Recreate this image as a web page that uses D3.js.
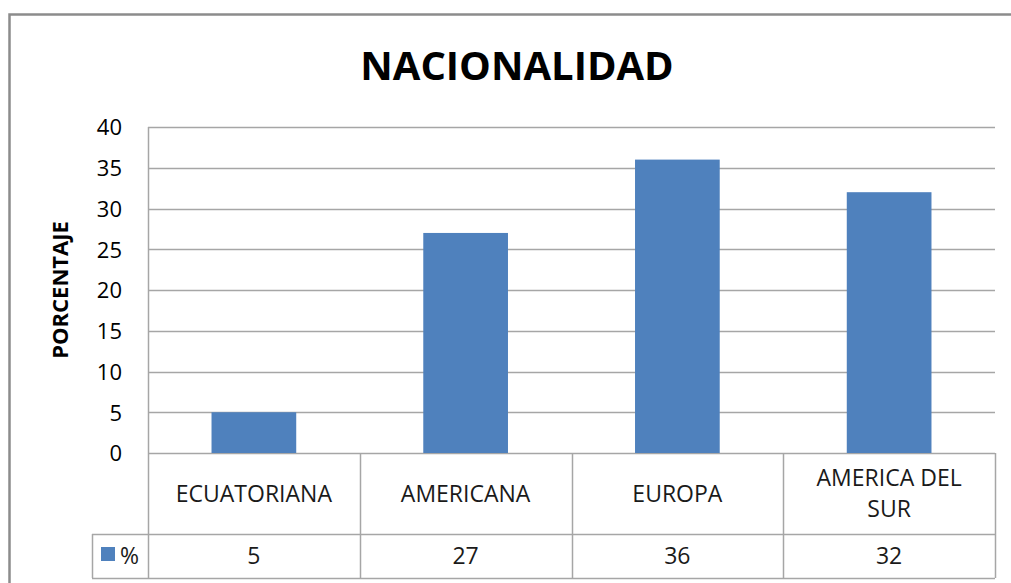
<!DOCTYPE html>
<html>
<head>
<meta charset="utf-8">
<script src="https://cdn.jsdelivr.net/npm/d3@7"></script>
<style>
  body { margin: 0; background: #fff; }
  svg { display: block; font-family: "Open Sans", sans-serif; }
</style>
</head>
<body>
<div id="vis"></div>
<script>
// datos
var categorias = ["ECUATORIANA", "AMERICANA", "EUROPA", "AMERICA DEL SUR"];
var etiquetas = [["ECUATORIANA"], ["AMERICANA"], ["EUROPA"], ["AMERICA DEL", "SUR"]];
var porcentajes = [5, 27, 36, 32];
var ticksY = [0, 5, 10, 15, 20, 25, 30, 35, 40];
var serie = "%";

const width = 1011;
const height = 583;
const azul = "#4f81bd";
const gris = "#a6a6a6";

var svg = d3.select("#vis")
  .append("svg")
  .attr("width", width)
  .attr("height", height);

// marco del grafico
svg.append("path")
  .attr("d", "M9.5,600 L9.5,14.5 L1020,14.5")
  .attr("fill", "none")
  .attr("stroke", "#8c8c8c")
  .attr("stroke-width", 2.5);

const mIzq = 148, mDer = 995, mSup = 127, mInf = 453;
const filaCat = 534, filaVal = 578, leyendaX = 92;

var x = d3.scaleBand()
  .domain(categorias)
  .range([mIzq, mDer])
  .paddingInner(0.6)
  .paddingOuter(0.3);

var y = d3.scaleLinear()
  .domain([0, 40])
  .range([mInf, mSup]);

// titulo
svg.append("text")
  .attr("x", 517)
  .attr("y", 80)
  .attr("text-anchor", "middle")
  .style("font-size", "40px")
  .style("font-weight", "bold")
  .text("NACIONALIDAD");

// lineas de cuadricula
svg.append("g")
  .selectAll("line")
  .data(ticksY)
  .enter()
  .append("line")
  .attr("x1", mIzq)
  .attr("x2", mDer)
  .attr("y1", d => Math.round(y(d)) + 0.5)
  .attr("y2", d => Math.round(y(d)) + 0.5)
  .attr("stroke", gris)
  .attr("stroke-width", 1.5);

// eje y
var ejeY = svg.append("g")
  .attr("transform", "translate(" + (mIzq - 26) + ",0)")
  .call(d3.axisLeft(y).tickValues(ticksY).tickSize(0).tickPadding(0));
ejeY.select(".domain").remove();
ejeY.selectAll("text")
  .style("font-size", "22px")
  .style("font-family", "'Open Sans', sans-serif")
  .attr("fill", "#000")
  .attr("dy", "0.36em");

svg.append("line")
  .attr("x1", mIzq + 0.5).attr("x2", mIzq + 0.5)
  .attr("y1", mSup).attr("y2", filaVal)
  .attr("stroke", gris).attr("stroke-width", 1.5);

svg.append("text")
  .attr("transform", "translate(68," + (mSup + mInf) / 2 + ") rotate(-90)")
  .attr("text-anchor", "middle")
  .style("font-size", "22px")
  .style("font-weight", "bold")
  .text("PORCENTAJE");

// barras
svg.append("g")
  .selectAll("rect")
  .data(porcentajes)
  .enter()
  .append("rect")
  .attr("x", (d, i) => x(categorias[i]))
  .attr("y", d => y(d))
  .attr("width", x.bandwidth())
  .attr("height", d => y(0) - y(d))
  .attr("fill", azul);

// tabla de datos
var bordes = categorias.map(c => x(c) + x.bandwidth() / 2 + x.step() / 2);
svg.append("g")
  .selectAll("line")
  .data(bordes)
  .enter()
  .append("line")
  .attr("x1", d => Math.round(d) + 0.5)
  .attr("x2", d => Math.round(d) + 0.5)
  .attr("y1", mInf)
  .attr("y2", filaVal)
  .attr("stroke", gris)
  .attr("stroke-width", 1.5);

[filaCat, filaVal].forEach(function(yy) {
  svg.append("line")
    .attr("x1", leyendaX).attr("x2", mDer)
    .attr("y1", yy + 0.5).attr("y2", yy + 0.5)
    .attr("stroke", gris).attr("stroke-width", 1.5);
});
svg.append("line")
  .attr("x1", leyendaX + 0.5).attr("x2", leyendaX + 0.5)
  .attr("y1", filaCat).attr("y2", filaVal)
  .attr("stroke", gris).attr("stroke-width", 1.5);

// etiquetas de categoria
var cat = svg.append("g")
  .selectAll("text")
  .data(etiquetas)
  .enter()
  .append("text")
  .attr("text-anchor", "middle")
  .style("font-size", "23px")
  .attr("fill", "#1a1a1a");
cat.each(function(lineas, i) {
  var cx = x(categorias[i]) + x.bandwidth() / 2;
  var cy = (mInf + filaCat) / 2 + 8 - (lineas.length - 1) * 15.5;
  d3.select(this).selectAll("tspan")
    .data(lineas)
    .enter()
    .append("tspan")
    .attr("x", cx)
    .attr("y", (d, j) => cy + j * 31)
    .text(d => d);
});

// fila de valores
svg.append("g")
  .selectAll("text")
  .data(porcentajes)
  .enter()
  .append("text")
  .attr("x", (d, i) => x(categorias[i]) + x.bandwidth() / 2)
  .attr("y", (filaCat + filaVal) / 2 + 8)
  .attr("text-anchor", "middle")
  .style("font-size", "23px")
  .attr("fill", "#1a1a1a")
  .text(d => d);

// leyenda
svg.append("rect")
  .attr("x", 101).attr("y", 547)
  .attr("width", 14).attr("height", 14)
  .attr("fill", azul);
svg.append("text")
  .attr("x", 120)
  .attr("y", (filaCat + filaVal) / 2 + 8)
  .style("font-size", "23px")
  .attr("fill", "#1a1a1a")
  .text(serie);
</script>
</body>
</html>
